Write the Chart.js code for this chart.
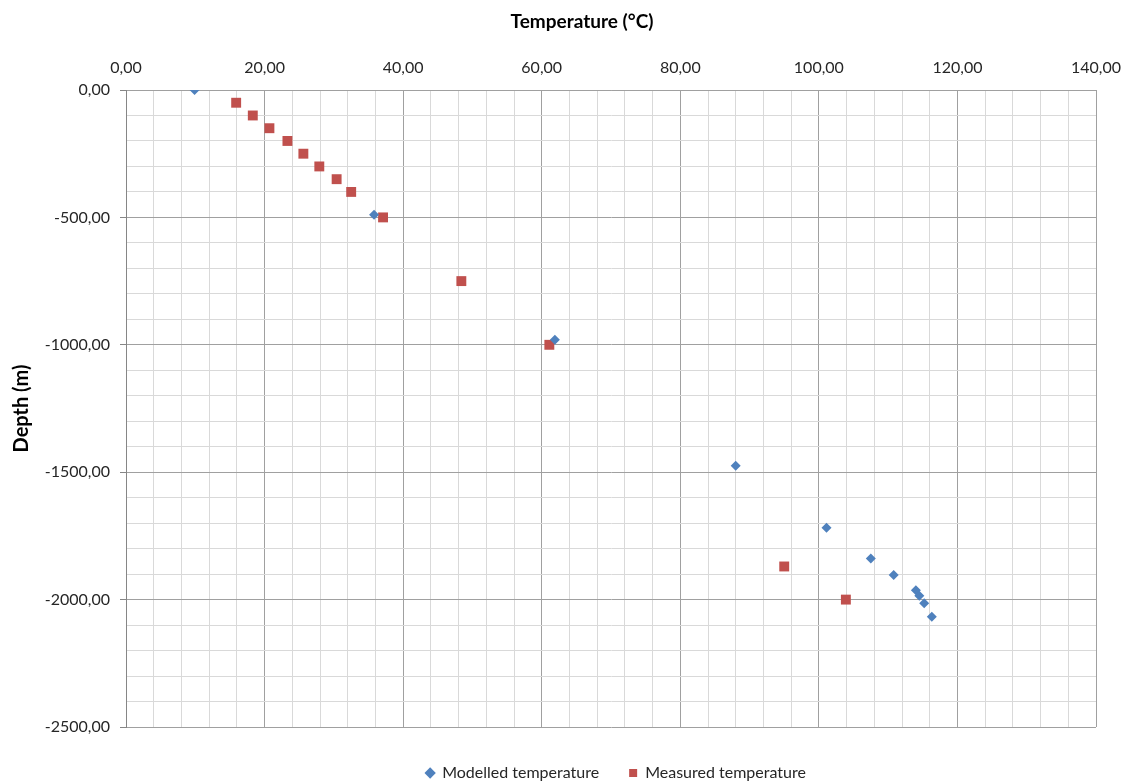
<!DOCTYPE html>
<html>
<head>
<meta charset="utf-8">
<script src="https://cdn.jsdelivr.net/npm/chart.js@4"></script>
<style>
html,body{margin:0;padding:0;background:#fff;}
#wrap{width:1125px;height:784px;}
</style>
</head>
<body>
<div id="wrap"><canvas id="c" width="1125" height="784"></canvas></div>
<script>
const modelledTemp = [9.9, 35.8, 61.9, 88.0, 101.1, 107.5, 110.8, 114.0, 114.5, 115.2, 116.3];
const modelledDepth = [0, -490, -980, -1475, -1718, -1839, -1903, -1963, -1985, -2014, -2067];
const measuredTemp = [15.9, 18.3, 20.7, 23.3, 25.6, 27.9, 30.4, 32.5, 37.1, 48.4, 61.1, 95.0, 103.9];
const measuredDepth = [-50, -100, -150, -200, -250, -300, -350, -400, -500, -750, -1000, -1870, -2000];
const seriesNames = ['Modelled temperature', 'Measured temperature'];
const xTitle = 'Temperature (°C)';
const yTitle = 'Depth (m)';

const fmt = v => v.toFixed(2).replace('.', ',');
const FONT = 'Lato, "Open Sans", sans-serif';
const TXT = '#262626';

const toPts = (xs, ys) => xs.map((x, i) => ({x: x, y: ys[i]}));

// centre the legend under the plot area, lower it a little, and place the top title
const boxPlace = {
  id: 'boxPlace',
  afterLayout(chart) {
    const l = chart.legend, ca = chart.chartArea, t = chart.titleBlock;
    if (l && ca) {
      l.left = ca.left + 5; l.right = ca.right + 5;
      l.top += 8; l.bottom += 8;
    }
    if (t) {
      const w = t.right - t.left;
      t.left = 582 - w / 2; t.right = 582 + w / 2;
    }
  }
};

new Chart(document.getElementById('c'), {
  type: 'scatter',
  data: {
    datasets: [
      {label: seriesNames[0], data: toPts(modelledTemp, modelledDepth), pointStyle: 'rectRot',
       pointRadius: 5, pointHoverRadius: 5, backgroundColor: '#4f81bd', borderColor: '#4f81bd', borderWidth: 0},
      {label: seriesNames[1], data: toPts(measuredTemp, measuredDepth), pointStyle: 'rect',
       pointRadius: 7, pointHoverRadius: 7, backgroundColor: '#c0504d', borderColor: '#c0504d', borderWidth: 0}
    ]
  },
  plugins: [boxPlace],
  options: {
    responsive: false,
    animation: false,
    layout: {padding: {left: 0, right: 29, top: 0, bottom: 1}},
    plugins: {
      title: {display: true, text: xTitle, color: '#000', font: {family: FONT, size: 19, weight: 'bold'},
              padding: {top: 10, bottom: 0}},
      legend: {
        position: 'bottom',
        labels: {usePointStyle: true, boxWidth: 8, boxHeight: 8, padding: 30, color: TXT,
                 font: {family: FONT, size: 16}}
      },
      tooltip: {enabled: false}
    },
    scales: {
      x: {
        type: 'linear', position: 'top', min: 0, max: 140,
        afterFit: s => {
          const t = s.chart.titleBlock;
          s.height = 90 - (t && t.height ? t.height : 0);
          s.paddingLeft = 0; s.paddingRight = 0;
        },
        ticks: {stepSize: 4, autoSkip: false, maxRotation: 0, padding: 13, color: TXT,
                font: {family: FONT, size: 16},
                callback: v => (Math.round(v) % 20 === 0 ? fmt(v) : '')},
        grid: {drawTicks: false,
               color: c => (c.tick && Math.round(c.tick.value) % 20 === 0 ? '#a0a0a0' : '#d9d9d9'),
               lineWidth: 1},
        border: {display: true, color: '#a0a0a0'},
        title: {display: false}
      },
      y: {
        type: 'linear', min: -2500, max: 0,
        afterFit: s => { s.width = 126; },
        ticks: {stepSize: 100, autoSkip: false, padding: 10, color: TXT,
                font: {family: FONT, size: 16},
                callback: v => (Math.round(v) % 500 === 0 ? fmt(v) : '')},
        grid: {tickLength: 6,
               color: c => (c.tick && Math.round(c.tick.value) % 500 === 0 ? '#a0a0a0' : '#d9d9d9'),
               tickColor: c => (c.tick && Math.round(c.tick.value) % 500 === 0 ? '#868686' : 'rgba(0,0,0,0)'),
               lineWidth: 1},
        border: {display: true, color: '#868686'},
        title: {display: true, text: yTitle, color: '#000', font: {family: FONT, size: 20, weight: 'bold'},
                padding: {top: 10, bottom: 0}}
      }
    }
  }
});
</script>
</body>
</html>
